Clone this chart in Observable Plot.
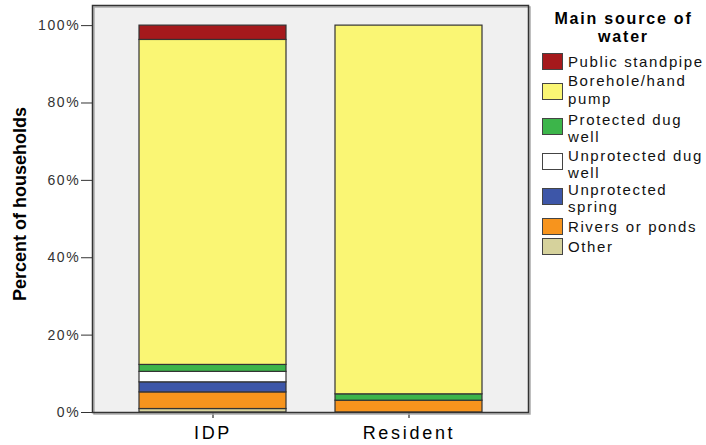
<!DOCTYPE html>
<html>
<head>
<meta charset="utf-8">
<script src="https://cdn.jsdelivr.net/npm/d3@7"></script>
<script src="https://cdn.jsdelivr.net/npm/@observablehq/plot@0.6"></script>
<style>
  html, body { margin: 0; padding: 0; background: #fff; }
  #wrap { position: relative; width: 706px; height: 445px; font-family: "Liberation Sans", Arial, sans-serif; overflow: hidden; }
  #ylabel { position: absolute; left: 20px; top: 204px; transform: translate(-50%, -50%) rotate(-90deg);
    font-family: "Liberation Sans Narrow", "Liberation Sans", Arial, sans-serif; font-weight: bold; font-size: 18px; white-space: nowrap; color: #000; }
  .ltitle { position: absolute; left: 541px; width: 165px; text-align: center; font-weight: bold; font-size: 16px; letter-spacing: 1.8px; line-height: 18px; color: #000; white-space: nowrap; }
  .sw { position: absolute; left: 542px; width: 21px; height: 17px; border: 1px solid #444; box-sizing: border-box; }
  .lab { position: absolute; left: 568px; font-size: 15px; line-height: 18px; letter-spacing: 1.6px; color: #111; white-space: nowrap; }
  svg g[aria-label="y-axis tick label"] text { letter-spacing: 1.7px; }
  svg g[aria-label="x-axis tick label"] text { letter-spacing: 2.7px; }
</style>
</head>
<body>
<div id="wrap"></div>
<script>
const groups = ["IDP", "Resident"];
const sources = ["Other", "Rivers or ponds", "Unprotected spring", "Unprotected dug well", "Protected dug well", "Borehole/hand pump", "Public standpipe"];
const idpValues = [0.9, 4.3, 2.6, 2.7, 1.8, 84.0, 3.7];
const residentValues = [0, 3.05, 0, 0, 1.65, 95.3, 0];
const colors = ["#d6d29c", "#f7941d", "#3d56a8", "#ffffff", "#3cb54a", "#faf674", "#a5191c"];
const yTicks = [0, 20, 40, 60, 80, 100];
const legendTitle = ["Main source of", "water"];
const legendOrder = ["Public standpipe", "Borehole/hand pump", "Protected dug well", "Unprotected dug well", "Unprotected spring", "Rivers or ponds", "Other"];
const legendLines = [["Public standpipe"], ["Borehole/hand", "pump"], ["Protected dug", "well"], ["Unprotected dug", "well"], ["Unprotected", "spring"], ["Rivers or ponds"], ["Other"]];

const rows = [];
sources.forEach((s, i) => {
  rows.push({group: "IDP", source: s, value: idpValues[i], order: i});
  rows.push({group: "Resident", source: s, value: residentValues[i], order: i});
});
const data = rows.filter(d => d.value > 0);

const chart = Plot.plot({
  width: 706,
  height: 445,
  marginLeft: 92,
  marginRight: 178,
  marginTop: 5,
  marginBottom: 33,
  style: {fontFamily: "Liberation Sans, Arial, sans-serif", background: "transparent"},
  x: {domain: groups, paddingInner: 0.25, paddingOuter: 0.234, label: null},
  y: {domain: [0, 105.2], label: null},
  color: {domain: sources, range: colors},
  marks: [
    Plot.frame({fill: "#f0f0f0", stroke: "none"}),
    Plot.barY(data, Plot.stackY({
      x: "group", y: "value", fill: "source", order: "order",
      stroke: "#333", strokeWidth: 1.2
    })),
    Plot.axisY({ticks: yTicks, tickFormat: d => d + "%", tickSize: 11, tickPadding: 1, fontSize: 14, color: "#333", label: null}),
    Plot.axisX({tickSize: 6, tickPadding: 8, fontSize: 18, color: "#000", label: null}),
    Plot.frame({stroke: "#aaa", strokeWidth: 1.5, dx: 1.5, dy: 1.5}),
    Plot.frame({stroke: "#333", strokeWidth: 1.5})
  ]
});

const wrap = document.getElementById("wrap");
wrap.appendChild(chart);

const yl = document.createElement("div");
yl.id = "ylabel";
yl.textContent = "Percent of households";
wrap.appendChild(yl);

// legend (HTML, to the right of the plot)
const titleCenters = [19, 37];
legendTitle.forEach((t, i) => {
  const d = document.createElement("div");
  d.className = "ltitle";
  d.style.top = (titleCenters[i] - 9) + "px";
  d.textContent = t;
  wrap.appendChild(d);
});
const swTops = [53, 83, 118, 153, 188, 218, 238];
const lineCenters = [[62], [81, 99], [120, 137], [156, 173], [190, 207], [227], [247]];
legendOrder.forEach((s, i) => {
  const sw = document.createElement("div");
  sw.className = "sw";
  sw.style.top = swTops[i] + "px";
  sw.style.background = colors[sources.indexOf(s)];
  wrap.appendChild(sw);
  legendLines[i].forEach((line, j) => {
    const lab = document.createElement("div");
    lab.className = "lab";
    lab.style.top = (lineCenters[i][j] - 9) + "px";
    lab.textContent = line;
    wrap.appendChild(lab);
  });
});
</script>
</body>
</html>
